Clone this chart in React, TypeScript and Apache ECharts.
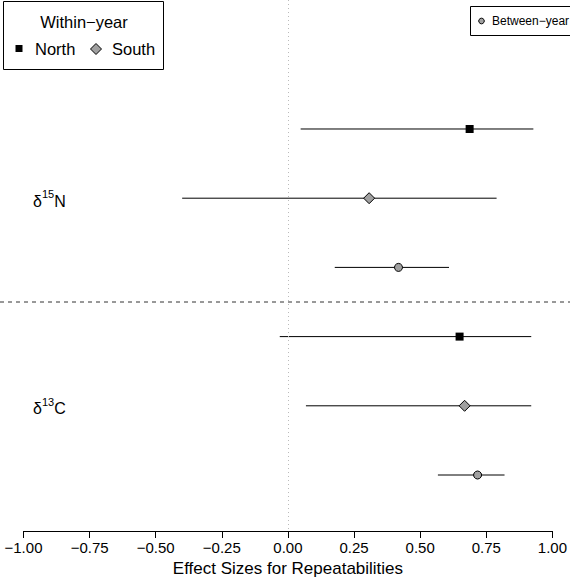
import React, { useEffect, useRef } from "react";
import * as echarts from "echarts";

// ---- data ----
const rowPositions = [1, 2, 3, 4, 5, 6];
const rowGroups = ["North", "South", "Between", "North", "South", "Between"];
const estimates = [0.687, 0.307, 0.418, 0.649, 0.668, 0.717];
const lowerCI = [0.048, -0.4, 0.177, -0.031, 0.068, 0.567];
const upperCI = [0.928, 0.789, 0.609, 0.92, 0.92, 0.819];
const isotopeSup = ["15", "13"];
const isotopeBase = ["N", "C"];
const isotopeRows = [2, 5];
const separatorRow = 3.5;
const zeroRef = 0;
const xTitle = "Effect Sizes for Repeatabilities";
const legendTitle = "Within\u2212year";
const legendItems = ["North", "South"];
const legendBetween = "Between\u2212year";

const FONT = "'Liberation Sans', Arial, Helvetica, sans-serif";
const GRAY = "#a0a0a0";

function pointsFor(group: string) {
  return rowPositions
    .map((r, i) => (rowGroups[i] === group ? [estimates[i], r] : null))
    .filter((d) => d !== null);
}

export default function App() {
  const ref = useRef<HTMLDivElement>(null);
  useEffect(() => {
    if (!ref.current) return;
    const chart = echarts.init(ref.current, null, { renderer: "svg" });
    chart.setOption({
      animation: false,
      grid: { left: 23.5, right: 16.5, top: 0, bottom: 51 },
      xAxis: {
        type: "value",
        position: "bottom",
        min: -1,
        max: 1,
        interval: 0.25,
        axisLine: { show: true, onZero: false, lineStyle: { color: "#000", width: 1 } },
        axisTick: { show: true, length: 7, lineStyle: { color: "#000", width: 1 } },
        axisLabel: {
          color: "#000",
          fontSize: 15,
          fontFamily: FONT,
          margin: 9,
          formatter: (v: number) => v.toFixed(2).replace("-", "\u2212"),
        },
        splitLine: { show: false },
        name: xTitle,
        nameLocation: "middle",
        nameGap: 27,
        nameTextStyle: { color: "#000", fontSize: 17, fontFamily: FONT },
      },
      yAxis: {
        type: "value",
        inverse: true,
        min: -0.864,
        max: 6.809,
        show: false,
      },
      series: [
        {
          type: "custom",
          silent: true,
          data: rowPositions.map((r, i) => [lowerCI[i], upperCI[i], r]),
          encode: { x: [0, 1], y: 2 },
          renderItem: (params: any, api: any) => {
            const y = api.value(2);
            const p1 = api.coord([api.value(0), y]);
            const p2 = api.coord([api.value(1), y]);
            return {
              type: "line",
              shape: { x1: p1[0], y1: p1[1], x2: p2[0], y2: p2[1] },
              style: { stroke: "#000", lineWidth: 1 },
            };
          },
          markLine: {
            silent: true,
            symbol: "none",
            label: { show: false },
            lineStyle: { color: "#bbbbbb", type: [1, 3], width: 1 },
            data: [{ xAxis: zeroRef }],
          },
          z: 1,
        },
        {
          type: "scatter",
          name: "North",
          symbol: "rect",
          symbolSize: 8,
          itemStyle: { color: "#000", opacity: 1 },
          data: pointsFor("North"),
          z: 3,
        },
        {
          type: "scatter",
          name: "South",
          symbol: "diamond",
          symbolSize: 11,
          itemStyle: { color: GRAY, borderColor: "#000", borderWidth: 1, opacity: 1 },
          data: pointsFor("South"),
          z: 3,
        },
        {
          type: "scatter",
          name: "Between",
          symbol: "circle",
          symbolSize: 8,
          itemStyle: { color: GRAY, borderColor: "#000", borderWidth: 1, opacity: 1 },
          data: pointsFor("Between"),
          z: 3,
        },
      ],
    });

    const yPix = (v: number) => (chart.convertToPixel({ gridIndex: 0 }, [0, v]) as number[])[1];
    const W = chart.getWidth();
    const sepY = yPix(separatorRow);

    const txt = (text: string, x: number, y: number, size: number, align = "left") => ({
      type: "text",
      x,
      y,
      style: {
        text,
        fill: "#000",
        fontSize: size,
        fontFamily: FONT,
        textAlign: align,
        align,
        textVerticalAlign: "middle",
        verticalAlign: "middle",
      },
      z: 10,
    });

    const isoEls: any[] = [];
    isotopeRows.forEach((r, i) => {
      const y = yPix(r);
      isoEls.push(txt("\u03b4", 33, y + 3, 16));
      isoEls.push(txt(isotopeSup[i], 42, y - 4, 11));
      isoEls.push(txt(isotopeBase[i], 54.3, y + 3, 16));
    });

    chart.setOption({
      graphic: [
        {
          type: "line",
          shape: { x1: 0, y1: sepY, x2: W, y2: sepY },
          style: { stroke: "#333", lineWidth: 1, lineDash: [4, 4] },
          silent: true,
          z: 5,
        },
        ...isoEls,
        // Within-year legend
        {
          type: "rect",
          shape: { x: 3.5, y: 1.5, width: 160, height: 68 },
          style: { fill: "#fff", stroke: "#000", lineWidth: 1 },
          z: 8,
        },
        txt(legendTitle, 84, 21.5, 16.5, "center"),
        {
          type: "rect",
          shape: { x: 15.5, y: 45, width: 7, height: 7 },
          style: { fill: "#000" },
          z: 10,
        },
        txt(legendItems[0], 35, 49, 16.5),
        {
          type: "polygon",
          shape: { points: [[96, 43.5], [101.5, 49], [96, 54.5], [90.5, 49]] },
          style: { fill: GRAY, stroke: "#000", lineWidth: 1 },
          z: 10,
        },
        txt(legendItems[1], 112, 49, 16.5),
        // Between-year legend
        {
          type: "rect",
          shape: { x: 470.5, y: 6.5, width: 200, height: 29 },
          style: { fill: "#fff", stroke: "#000", lineWidth: 1 },
          z: 8,
        },
        {
          type: "circle",
          shape: { cx: 481.5, cy: 21, r: 2.8 },
          style: { fill: GRAY, stroke: "#000", lineWidth: 1 },
          z: 10,
        },
        txt(legendBetween, 492, 21, 12),
      ],
    });

    return () => chart.dispose();
  }, []);
  return (
    <div
      ref={ref}
      style={{ position: "absolute", left: 0, top: 0, width: 570, height: 582, background: "#fff" }}
    />
  );
}
